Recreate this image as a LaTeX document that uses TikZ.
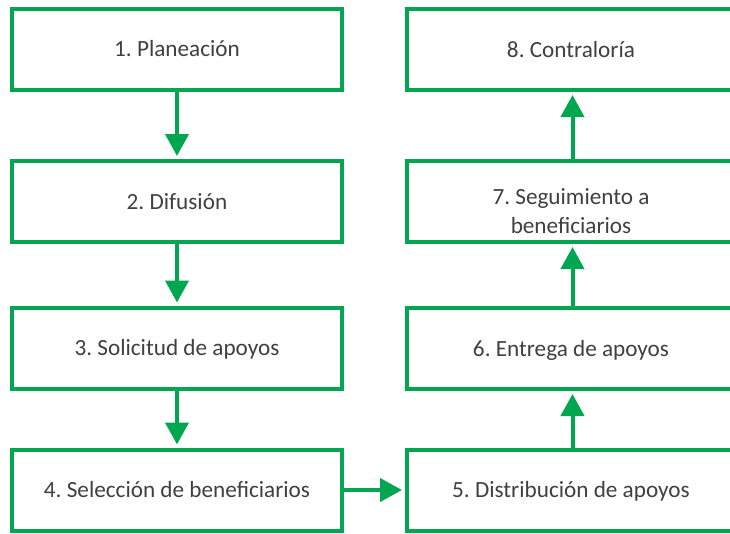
\documentclass[tikz,border=0pt]{standalone}
\usepackage{fontspec}
\setmainfont{Carlito}
\usetikzlibrary{arrows.meta}
\definecolor{gvgreen}{RGB}{0,166,80}
\definecolor{gvtext}{RGB}{64,64,64}
\tikzset{
  stepbox/.style={draw=gvgreen, line width=4pt, minimum height=81pt, inner sep=0pt,
    text height=17.5pt, text depth=2pt,
    text=gvtext, font=\fontsize{23.2}{28.7}\selectfont\frenchspacing, align=center},
  leftbox/.style={stepbox, minimum width=330pt},
  rightbox/.style={stepbox, minimum width=328pt},
  flowarr/.style={draw=gvgreen, line width=4pt, -{Triangle[length=22pt,width=23pt]}, shorten >=3pt},
  plaintext/.style={text=gvtext, font=\fontsize{23.2}{28.7}\selectfont\frenchspacing, align=center, inner sep=0pt}
}
\begin{document}
\begin{tikzpicture}[x=1pt,y=-1pt]
\clip (0,0) rectangle (730,533);
\fill[white] (0,0) rectangle (730,533);
% left column
\node[leftbox] (b1) at (177,49) {1. Planeación};
\node[leftbox] (b2) at (177,201.5) {2. Difusión};
\node[leftbox] (b3) at (177,348) {3. Solicitud de apoyos};
\node[leftbox] (b4) at (177,490) {4. Selección de beneficiarios};
% right column
\node[rightbox] (b8) at (571,49.5) {8. Contraloría};
\node[rightbox] (b7) at (571,201.5) {};
\node[plaintext] (t7) at (571,211) {7. Seguimiento a\\beneficiarios};
\node[rightbox] (b6) at (571,348.5) {6. Entrega de apoyos};
\node[rightbox] (b5) at (571,490) {5. Distribución de apoyos};
% connectors
\draw[flowarr] (b1.south) -- (b2.north);
\draw[flowarr] (b2.south) -- (b3.north);
\draw[flowarr] (b3.south) -- (b4.north);
\draw[flowarr] (b4.east) -- (b5.west);
\draw[flowarr] ([xshift=1.5pt]b5.north) -- ([xshift=1.5pt]b6.south);
\draw[flowarr] ([xshift=1.5pt]b6.north) -- ([xshift=1.5pt]b7.south);
\draw[flowarr] ([xshift=1.5pt]b7.north) -- ([xshift=1.5pt]b8.south);
\end{tikzpicture}
\end{document}
